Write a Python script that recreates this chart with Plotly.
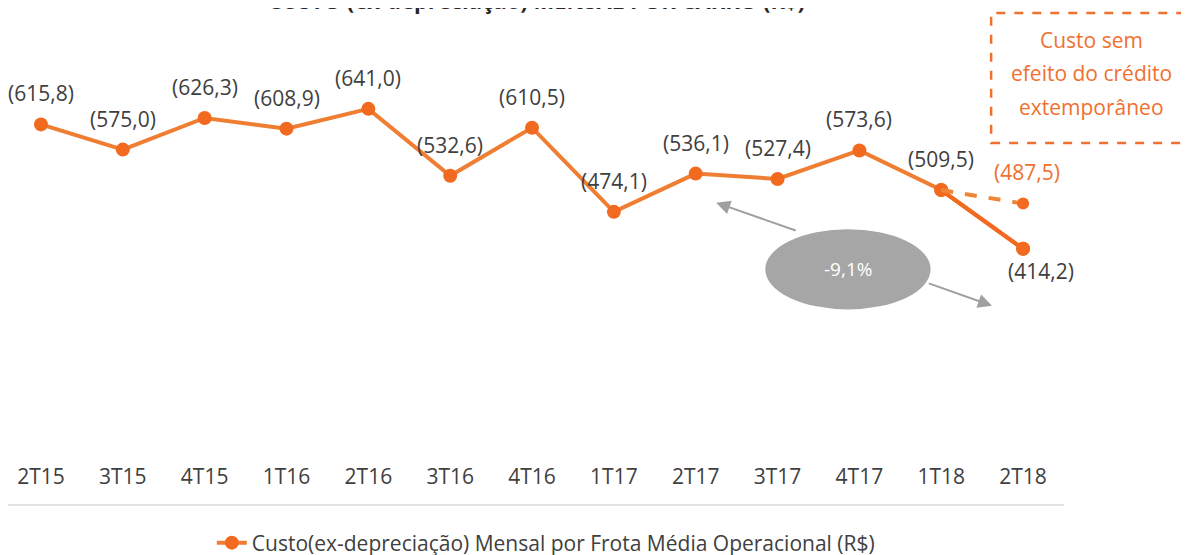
import plotly.graph_objects as go

# quarters and monthly cost per car (R$, shown in parentheses)
quarters = ["2T15", "3T15", "4T15", "1T16", "2T16", "3T16", "4T16",
            "1T17", "2T17", "3T17", "4T17", "1T18", "2T18"]
custo = [615.8, 575.0, 626.3, 608.9, 641.0, 532.6, 610.5,
         474.1, 536.1, 527.4, 573.6, 509.5, 414.2]
# scenario without the extemporaneous credit
alt_quarters = ["1T18", "2T18"]
alt_custo = [509.5, 487.5]
variacao = "-9,1%"
nota = ["Custo sem", "efeito do crédito", "extemporâneo"]

FONT = "Open Sans"
LINE = "#EF7D32"
DARK_OR = "#F26A1F"
NOTE_OR = "#F07030"
GREY_TXT = "#404040"


def fmt(v):
    return "(" + f"{v:.1f}".replace(".", ",") + ")"


fig = go.Figure()

fig.add_trace(go.Scatter(
    x=quarters, y=custo, mode="lines+markers",
    line=dict(color=LINE, width=4),
    marker=dict(color=DARK_OR, size=14),
    name="Custo(ex-depreciação) Mensal por Frota Média Operacional (R$)",
))
# last segment drawn a touch darker
fig.add_trace(go.Scatter(
    x=quarters[-2:], y=custo[-2:], mode="lines+markers",
    line=dict(color=DARK_OR, width=4),
    marker=dict(color=DARK_OR, size=14),
    showlegend=False, hoverinfo="skip",
))
fig.add_trace(go.Scatter(
    x=alt_quarters, y=alt_custo, mode="lines",
    line=dict(color="#F08437", width=4, dash="dash"),
    showlegend=False,
))
fig.add_trace(go.Scatter(
    x=alt_quarters[-1:], y=alt_custo[-1:], mode="markers",
    marker=dict(color=DARK_OR, size=12),
    showlegend=False,
))

# data labels
for q, v in zip(quarters[:-1], custo[:-1]):
    fig.add_annotation(x=q, y=v, text=fmt(v), showarrow=False, yshift=31,
                       font=dict(family=FONT, size=21, color=GREY_TXT))
fig.add_annotation(x=quarters[-1], y=custo[-1], text=fmt(custo[-1]), showarrow=False,
                   xshift=18, yshift=-22,
                   font=dict(family=FONT, size=21, color=GREY_TXT))
fig.add_annotation(x=alt_quarters[-1], y=alt_custo[-1], text=fmt(alt_custo[-1]),
                   showarrow=False, xshift=4, yshift=32,
                   font=dict(family=FONT, size=21, color=NOTE_OR))

# -9,1% variation bubble with arrows
arrow = dict(showarrow=True, text="", arrowhead=2, arrowsize=1.4, arrowwidth=2,
             arrowcolor="#A0A0A0", axref="x", ayref="y")
fig.add_annotation(x=8.25, y=489, ax=9.24, ay=443, **arrow)
fig.add_annotation(x=11.62, y=322, ax=10.83, ay=359, **arrow)
fig.add_shape(type="circle", xref="x", yref="y", x0=8.85, x1=10.87, y0=316, y1=446,
              fillcolor="#A6A6A6", line=dict(width=0), layer="above")
fig.add_annotation(x=9.86, y=381, text=variacao, showarrow=False,
                   font=dict(family=FONT, size=19, color="white"))

# dashed note box
fig.add_shape(type="rect", xref="paper", yref="paper", x0=0.931, x1=1.2, y0=0.7205, y1=1.016,
              line=dict(color=NOTE_OR, width=2.5, dash="dash"), fillcolor="rgba(0,0,0,0)")
for line_txt, yy in zip(nota, [0.9545, 0.8795, 0.802]):
    fig.add_annotation(xref="paper", yref="paper", x=1.0265, y=yy, text=line_txt,
                       xanchor="center", yanchor="middle", showarrow=False,
                       font=dict(family=FONT, size=21, color=NOTE_OR))

# separator line above legend
fig.add_shape(type="line", xref="paper", yref="paper", x0=0, x1=1, y0=-0.1023, y1=-0.1023,
              line=dict(color="#D9D9D9", width=1.5))

# title (cut off at top in the original)
fig.add_annotation(xref="paper", yref="paper", x=0.5, y=1.006, yanchor="bottom",
                   xanchor="center",
                   text="<b>CUSTO (ex-depreciação) MENSAL POR CARRO (R$)</b>",
                   showarrow=False, font=dict(family=FONT, size=22, color="#262626"))

fig.update_xaxes(type="category", range=[-0.403, 12.5], showgrid=False, showline=False,
                 zeroline=False, ticks="", ticklabelstandoff=2,
                 tickfont=dict(family=FONT, size=21, color=GREY_TXT))
fig.update_yaxes(range=[72, 785], visible=False)

fig.update_layout(
    width=1181, height=555,
    paper_bgcolor="white", plot_bgcolor="white",
    margin=dict(l=0, r=125, t=12, b=103, autoexpand=False),
    showlegend=True,
    legend=dict(orientation="h", x=0.193, xanchor="left",
                yref="container", y=0.036, yanchor="middle",
                font=dict(family=FONT, size=21, color=GREY_TXT)),
)

fig.write_html("out.html")
